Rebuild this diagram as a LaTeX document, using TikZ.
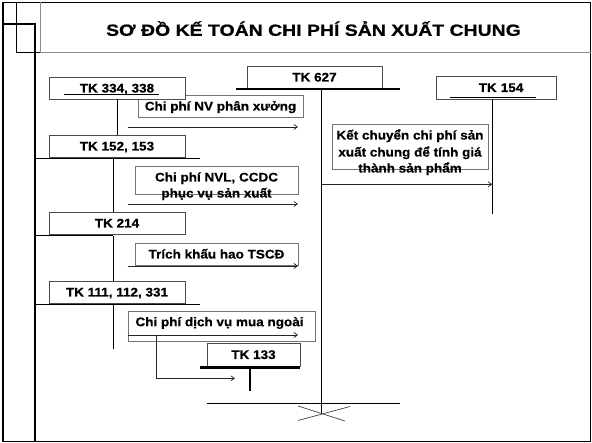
\documentclass[tikz,border=0pt]{standalone}
\usepackage{fontspec}
\setmainfont{Liberation Sans}
\newfontfamily\titlefont[FakeStretch=1.2,FakeBold=0.8]{Liberation Sans Bold}
\newfontfamily\boxfont[FakeStretch=1.08,FakeBold=0.6]{Liberation Sans Bold}
\usetikzlibrary{arrows.meta}
\begin{document}
\begin{tikzpicture}[x=1pt,y=-1pt,
  txt/.style={font=\boxfont\fontsize{12.5}{16.5}\selectfont, text height=9pt, text depth=0pt},
  acc/.style={txt, draw=black!70, line width=0.7pt, fill=white, inner sep=0pt},
  note/.style={txt, draw=black!55, line width=0.7pt, fill=white, inner sep=0pt},
  lbl/.style={font=\boxfont\fontsize{12.5}{16.5}\selectfont, inner sep=0pt, anchor=base},
  tline/.style={line width=0.9pt},
  heavy/.style={line width=2.2pt},
  flow/.style={line width=0.7pt, draw=black!85, -{Straight Barb[length=3.5pt,width=5pt]}},
  frame/.style={line width=1.6pt},
  titleline/.style={draw=black!45, line width=1pt}]
\useasboundingbox (0,0) rectangle (592,443);
% frame and decorations
\draw[frame] (3,2.5) rectangle (590.5,441.5);
\draw[line width=1.4pt] (16.5,2.5) -- (16.5,52.5) -- (40,52.5);
\draw[line width=1.4pt] (3,24) -- (35,24);
\draw[line width=2.4pt] (35,23.3) -- (35,441.5);
\draw[titleline] (40,2.5) -- (40,52.5) -- (590.5,52.5);
\node[font=\titlefont\fontsize{16.2}{19}\selectfont, anchor=base, inner sep=0pt] (title) at (313.5,35.8) {SƠ ĐỒ KẾ TOÁN CHI PHÍ SẢN XUẤT CHUNG};
% boxes
\node[note, minimum width=165pt, minimum height=22pt] (nv) at (220.5,106) {Chi phí NV phân xưởng};
\node[acc, minimum width=136pt, minimum height=22pt] (tk334) at (117,88) {TK 334, 338};
\node[acc, minimum width=135pt, minimum height=22pt] (tk627) at (314.5,77) {TK 627};
\node[acc, minimum width=120pt, minimum height=23pt, text width=120pt, align=center] (tk154) at (496,87.5) {\hspace*{10pt}TK 154};
\node[acc, minimum width=136pt, minimum height=22pt] (tk152) at (117,146) {TK 152, 153};
\node[note, minimum width=163pt, minimum height=28pt] (nvl) at (216.5,180) {};
\node[acc, minimum width=136pt, minimum height=22pt] (tk214) at (117,223) {TK 214};
\node[note, minimum width=163pt, minimum height=22pt] (kh) at (216.5,254) {Trích khấu hao TSCĐ};
\node[acc, minimum width=136pt, minimum height=22pt] (tk111) at (117,292) {TK 111, 112, 331};
\node[note, minimum width=187pt, minimum height=30pt] (dv) at (221.5,326) {};
\node[acc, minimum width=93pt, minimum height=23pt] (tk133) at (253.5,354.5) {TK 133};
\node[note, minimum width=156pt, minimum height=45pt] (kc) at (410,146.5) {};
% multi-line labels
\node[lbl] (nvl1) at (216.5,181.5) {Chi phí NVL, CCDC};
\node[lbl] (nvl2) at (216.5,197.5) {phục vụ sản xuất};
\node[lbl] (kc1) at (410,139.5) {Kết chuyển chi phí sản};
\node[lbl] (kc2) at (410,156.5) {xuất chung để tính giá};
\node[lbl] (kc3) at (410,172.5) {thành sản phẩm};
\node[lbl] (dvt) at (219.5,326.2) {Chi phí dịch vụ mua ngoài};
% T-account lines
\coordinate (u334a) at (64,94.3); \coordinate (u334b) at (159,94.3);
\draw[tline] (u334a) -- (u334b);
\draw[tline] (tk334.south) -- (tk152.north);
\coordinate (h152a) at (35,158.3); \coordinate (h152b) at (200,158.3);
\draw[tline] (h152a) -- (h152b);
\coordinate (v152) at (113.3,158.3);
\draw[tline] (v152) -- (v152 |- tk214.north);
\coordinate (h214a) at (35,235.7); \coordinate (v214) at (113.3,235.7);
\draw[tline] (h214a) -- (v214);
\draw[tline] (v214) -- (v214 |- tk111.north);
\coordinate (h111a) at (35,304); \coordinate (h111b) at (200,304);
\draw[tline] (h111a) -- (h111b);
\coordinate (v111) at (113.3,304); \coordinate (e111) at (113.3,349);
\draw[tline] (v111) -- (e111);
\coordinate (h627a) at (236,89); \coordinate (h627b) at (400,89);
\draw[heavy] (h627a) -- (h627b);
\coordinate (v627) at (321.7,89); \coordinate (e627) at (321.7,414);
\draw[tline] (v627) -- (e627);
\coordinate (u154a) at (450,97.3); \coordinate (u154b) at (536,97.3);
\draw[tline] (u154a) -- (u154b);
\coordinate (v154) at (492.3,99); \coordinate (e154) at (492.3,214);
\draw[tline] (v154) -- (e154);
\coordinate (h133a) at (200,367.7); \coordinate (h133b) at (300,367.7);
\draw[line width=2.4pt] (h133a) -- (h133b);
\coordinate (v133) at (250,367.7); \coordinate (e133) at (250,391);
\draw[line width=2.4pt] (v133) -- (e133);
% flows
\coordinate (s1) at (127.7,127); \coordinate (t1) at (298,127);
\draw[flow] (s1) -- (t1);
\coordinate (s2) at (127.7,204); \coordinate (t2) at (298,204);
\draw[flow] (s2) -- (t2);
\coordinate (s3) at (127.7,266); \coordinate (t3) at (298,266);
\draw[flow] (s3) -- (t3);
\coordinate (s4) at (127.7,335); \coordinate (t4) at (298,335);
\draw[flow] (s4) -- (t4);
\coordinate (kcs) at (321.7,184.3); \coordinate (kce) at (492.3,184.3);
\draw[flow] (kcs) -- (kce);
\coordinate (d1) at (156,335); \coordinate (d3) at (235,378.3);
\draw[flow] (d1) |- (d3);
% closing lines
\coordinate (b1) at (206.7,403.3); \coordinate (b2) at (400,403.3);
\draw[tline] (b1) -- (b2);
\coordinate (x1) at (298,406); \coordinate (x2) at (345,421);
\coordinate (x3) at (298,420.5); \coordinate (x4) at (350,406.5);
\draw[line width=0.7pt, black!75] (x1) -- (x2);
\draw[line width=0.7pt, black!75] (x3) -- (x4);
\end{tikzpicture}
\end{document}
